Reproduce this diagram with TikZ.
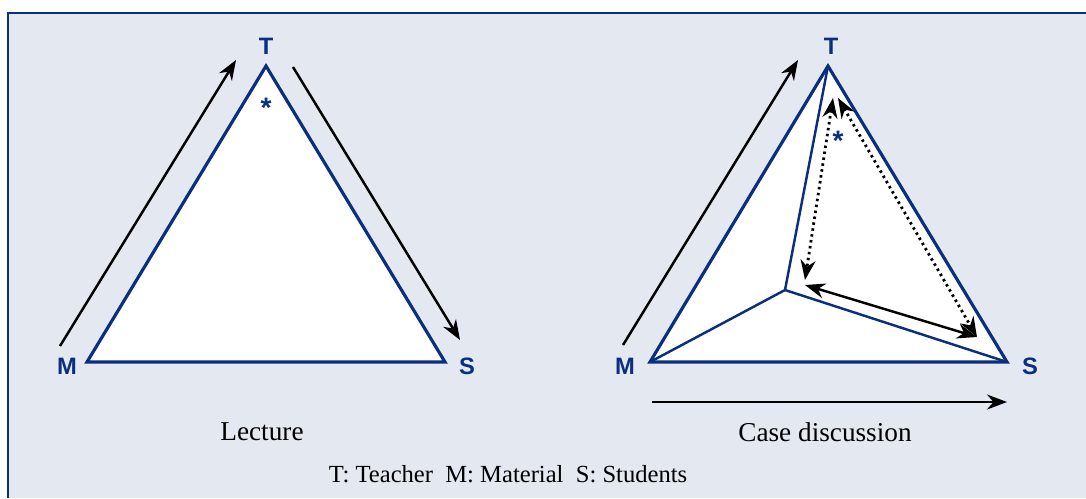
\documentclass[tikz,border=0pt]{standalone}
\usepackage{fontspec}
\setmainfont{Liberation Serif}
\newfontfamily\labelfont{Liberation Sans}
\usetikzlibrary{arrows.meta}
\definecolor{frameblue}{HTML}{0B2F7F}
\definecolor{panelgray}{HTML}{E4E8F0}

\begin{document}
\begin{tikzpicture}[x=0.02cm, y=-0.02cm,
  corner/.style={font=\labelfont\bfseries\fontsize{13.5}{13.5}\selectfont, text=frameblue, inner sep=0pt},
  star/.style={font=\labelfont\bfseries\fontsize{16}{16}\selectfont, text=frameblue, inner sep=0pt},
  edge/.style={draw=frameblue, line width=1.8pt, line join=miter},
  inner/.style={draw=frameblue, line width=1.4pt},
  flow/.style={-{Stealth[length=4mm,width=3mm]}, line width=1.4pt},
  both/.style={{Stealth[length=4mm,width=3mm]}-{Stealth[length=4mm,width=3mm]}, line width=1.4pt},
  dots/.style={both, dotted, line width=1.6pt},
  caption/.style={font=\fontsize{15.5}{17}\selectfont, inner sep=0pt}
]
  \useasboundingbox (0,0) rectangle (1086,498);
  \fill[panelgray] (8,13) rectangle (1086,498);
  \draw[frameblue, line width=1.5pt] (8,498) -- (8,13) -- (1086,13);

  % lecture
  \coordinate (lt) at (266,66);
  \coordinate (lm) at (87,362);
  \coordinate (ls) at (445,362);
  \filldraw[edge, fill=white] (lt) -- (lm) -- (ls) -- cycle;
  \node[corner] (lT) at (266,46) {T};
  \node[corner] (lM) at (67,366) {M};
  \node[corner] (lS) at (467,366) {S};
  \node[star] (lstar) at (266,108) {*};
  \coordinate (la0) at (60,346);
  \coordinate (la1) at (236,60);
  \coordinate (lb0) at (293,67);
  \coordinate (lb1) at (460,340);
  \draw[flow] (la0) -- (la1);
  \draw[flow] (lb0) -- (lb1);
  \node[caption] (lcap) at (262,432) {Lecture};

  % case discussion
  \coordinate (ct) at (828,66);
  \coordinate (cm) at (650,362);
  \coordinate (cs) at (1007,362);
  \coordinate (cp) at (785,290);
  \filldraw[edge, fill=white] (ct) -- (cm) -- (cs) -- cycle;
  \draw[inner] (ct) -- (cp) -- (cm);
  \draw[inner] (cp) -- (cs);
  \node[corner] (cT) at (831,46) {T};
  \node[corner] (cM) at (625,366) {M};
  \node[corner] (cS) at (1030,366) {S};
  \node[star] (cstar) at (838,141) {*};
  \coordinate (ca0) at (623,345);
  \coordinate (ca1) at (798,60);
  \coordinate (cb0) at (652,402);
  \coordinate (cb1) at (1007,402);
  \draw[flow] (ca0) -- (ca1);
  \draw[flow] (cb0) -- (cb1);
  \coordinate (d0) at (833,98);
  \coordinate (d1) at (805,280);
  \coordinate (e0) at (838,98);
  \coordinate (e1) at (977,337);
  \coordinate (f0) at (805,285);
  \coordinate (f1) at (977,337);
  \draw[dots] (d0) -- (d1);
  \draw[dots] (e0) -- (e1);
  \draw[both] (f0) -- (f1);
  \node[caption] (ccap) at (825,432) {Case discussion};

  \node[caption, font=\fontsize{14}{16}\selectfont] (key) at (508,474) {T: Teacher\ \ M: Material\ \ S: Students};
\end{tikzpicture}
\end{document}
